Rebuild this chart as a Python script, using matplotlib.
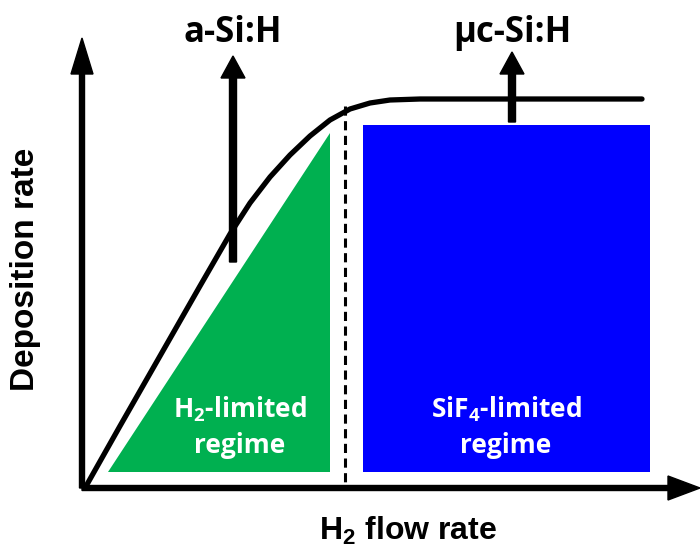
import matplotlib
matplotlib.use("Agg")
import matplotlib.pyplot as plt
from matplotlib.patches import Polygon, Rectangle

plt.rcParams['mathtext.default'] = 'regular'

# schematic drawn in pixel units of the 700x550 picture (y grows downward)
curve_x = [85, 120, 160, 200, 230, 250, 270, 290, 310, 330, 350, 370, 390, 420, 642]
curve_y = [488, 426, 356, 286, 234, 203, 177, 155, 136, 120, 109, 103, 100, 99, 99]

origin = (82, 488)
y_axis_top = 38
x_axis_end = 700

green_tri_x = [108, 330, 330]
green_tri_y = [472, 472, 133]
blue_box = (363, 125, 650, 472)   # left, top, right, bottom
boundary_x = 345

arrow_x = [233, 512]
arrow_bottom = [262, 122]
arrow_tip = [56, 52]
phase_labels = ['a-Si:H', 'µc-Si:H']

regime_labels = [r'H$_2$-limited' + '\nregime', r'SiF$_4$-limited' + '\nregime']
regime_x = [240, 506]

fig = plt.figure(figsize=(7, 5.5), dpi=100)
ax = fig.add_axes([0, 0, 1, 1])
ax.set_xlim(0, 700)
ax.set_ylim(550, 0)
ax.axis('off')

ax.add_patch(Polygon(list(zip(green_tri_x, green_tri_y)), closed=True,
                     facecolor='#00b050', edgecolor='none'))
l, t, r, b = blue_box
ax.add_patch(Rectangle((l, t), r - l, b - t, facecolor='#0000ff', edgecolor='none'))

ax.plot([boundary_x, boundary_x], [106, origin[1]], color='black', lw=2.2,
        ls=(0, (3, 1.8)))

ax.plot(curve_x, curve_y, color='black', lw=3.8, solid_capstyle='round',
        solid_joinstyle='round')

# axes arrows
ax.arrow(origin[0], origin[1], 0, y_axis_top - origin[1], width=5, head_width=22,
         head_length=36, length_includes_head=True, color='black')
ax.arrow(origin[0], origin[1], x_axis_end - origin[0], 0, width=5, head_width=24,
         head_length=32, length_includes_head=True, color='black')

for x, yb, yt, lab in zip(arrow_x, arrow_bottom, arrow_tip, phase_labels):
    ax.arrow(x, yb, 0, yt - yb, width=7, head_width=24, head_length=22,
             length_includes_head=True, color='black')
    ax.text(x, 33, lab, ha='center', va='center', fontsize=25,
            fontfamily='Open Sans', fontweight='bold')

for x, lab in zip(regime_x, regime_labels):
    ax.text(x, 427, lab, ha='center', va='center', fontsize=19, color='white',
            fontfamily='Open Sans', fontweight='bold', linespacing=1.4)

ax.text(408, 531, r'H$_2$ flow rate', ha='center', va='center', fontsize=23,
        fontfamily='Liberation Sans', fontweight='bold')
ax.text(26, 269, 'Deposition rate', ha='center', va='center', fontsize=24,
        rotation=90, fontfamily='Liberation Sans', fontweight='bold')

fig.savefig('out.png', dpi=100)
